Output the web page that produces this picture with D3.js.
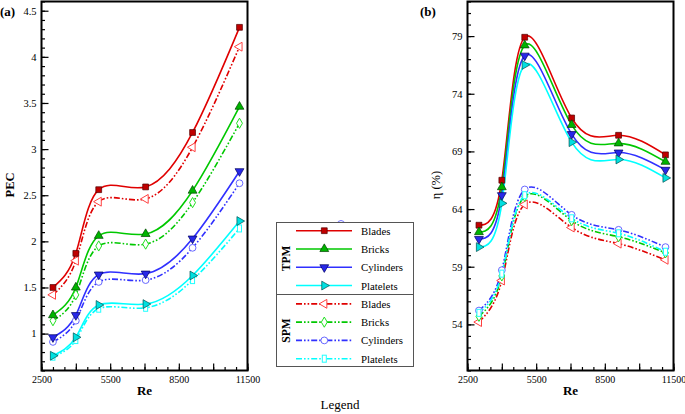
<!DOCTYPE html>
<html><head><meta charset="utf-8">
<script src="https://cdn.jsdelivr.net/npm/d3@7"></script>
<style>
html,body{margin:0;padding:0;background:#fff;}
svg{display:block;}
svg text{font-family:"Liberation Serif","Times New Roman",serif;}
</style></head>
<body><svg id="chart" width="685" height="414"></svg>
<script>
// ---- data ----
const reValues = [3000, 4000, 5000, 7050, 9100, 11150];
const seriesNames = ["Blades", "Bricks", "Cylinders", "Platelets"];
const groups = ["TPM", "SPM"];

const tpmBladesPEC = [1.50, 1.87, 2.56, 2.59, 3.18, 4.32];
const tpmBricksPEC = [1.20, 1.50, 2.06, 2.08, 2.55, 3.46];
const tpmCylindersPEC = [0.96, 1.20, 1.64, 1.65, 2.03, 2.76];
const tpmPlateletsPEC = [0.76, 0.96, 1.31, 1.32, 1.63, 2.22];
const spmBladesPEC = [1.42, 1.79, 2.43, 2.46, 3.02, 4.11];
const spmBricksPEC = [1.14, 1.42, 1.95, 1.97, 2.42, 3.28];
const spmCylindersPEC = [0.91, 1.14, 1.56, 1.58, 1.93, 2.63];
const spmPlateletsPEC = [0.75, 0.93, 1.27, 1.28, 1.58, 2.14];

const tpmBladesEta = [62.6, 66.5, 78.9, 71.9, 70.4, 68.7];
const tpmBricksEta = [62.0, 65.9, 78.2, 71.3, 69.7, 68.1];
const tpmCylindersEta = [61.4, 65.2, 77.3, 70.5, 68.9, 67.4];
const tpmPlateletsEta = [60.7, 64.5, 76.5, 69.8, 68.3, 66.7];
const spmBladesEta = [54.2, 57.8, 64.4, 62.4, 61.0, 59.6];
const spmBricksEta = [54.7, 58.2, 65.1, 63.0, 61.6, 60.2];
const spmCylindersEta = [55.2, 58.7, 65.7, 63.5, 62.2, 60.7];
const spmPlateletsEta = [55.0, 58.4, 65.2, 63.2, 61.9, 60.3];

const xTickLabels = [2500, 5500, 8500, 11500];
const pecTickLabels = [1, 1.5, 2, 2.5, 3, 3.5, 4, 4.5];
const etaTickLabels = [54, 59, 64, 69, 74, 79];

// ---- styles ----
const FONT = "'Liberation Serif','Times New Roman',serif";
const lineColors = ["#e00000", "#00c800", "#3030ff", "#00ffff"];
const markerFill = ["#c00000", "#00b400", "#2828e8", "#00e0e0"];
const markerStroke = ["#500000", "#004400", "#000060", "#005050"];
const openStroke = ["#ff4040", "#20e020", "#6868ff", "#20ffff"];
const dashSPM = "6,2,1.6,2,1.6,2";

const svg = d3.select("#chart");

const tpmPEC = [tpmBladesPEC, tpmBricksPEC, tpmCylindersPEC, tpmPlateletsPEC];
const spmPEC = [spmBladesPEC, spmBricksPEC, spmCylindersPEC, spmPlateletsPEC];
const tpmEta = [tpmBladesEta, tpmBricksEta, tpmCylindersEta, tpmPlateletsEta];
const spmEta = [spmBladesEta, spmBricksEta, spmCylindersEta, spmPlateletsEta];

function drawMarker(g, kind, i, x, y) {
  if (kind === "TPM") {
    const sym = [d3.symbolSquare, d3.symbolTriangle, d3.symbolTriangle, d3.symbolTriangle][i];
    const rot = [0, 0, 180, 90][i];
    g.append("path").attr("d", d3.symbol(sym, 34)())
      .attr("transform", `translate(${x},${y}) rotate(${rot})`)
      .attr("fill", markerFill[i]).attr("stroke", markerStroke[i]).attr("stroke-width", 0.7);
  } else {
    const c = openStroke[i];
    if (i === 0) {
      g.append("path").attr("d", d3.symbol(d3.symbolTriangle, 34)())
        .attr("transform", `translate(${x},${y}) rotate(-90)`)
        .attr("fill", "#fff").attr("stroke", c).attr("stroke-width", 1);
    } else if (i === 1) {
      g.append("path").attr("d", d3.symbol(d3.symbolDiamond, 30)())
        .attr("transform", `translate(${x},${y})`)
        .attr("fill", "#fff").attr("stroke", c).attr("stroke-width", 1);
    } else if (i === 2) {
      g.append("circle").attr("cx", x).attr("cy", y).attr("r", 3.4)
        .attr("fill", "#fff").attr("stroke", c).attr("stroke-width", 1);
    } else {
      g.append("rect").attr("x", x - 2).attr("y", y - 3.5).attr("width", 4).attr("height", 7)
        .attr("fill", "#fff").attr("stroke", c).attr("stroke-width", 1);
    }
  }
}

function panel(opts) {
  const {x0, x1, y0, y1, yDomain, yLabels, yMinorStep, tpm, spm, yTitle, panelLabel, plx} = opts;
  const x = d3.scaleLinear().domain([2500, 11500]).range([x0, x1]);
  const y = d3.scaleLinear().domain(yDomain).range([y1, y0]);
  const g = svg.append("g");

  const xMinor = d3.range(2500, 11501, 500);
  g.append("g").attr("transform", `translate(0,${y1})`)
    .call(d3.axisBottom(x).tickValues(xMinor).tickSize(-3.5).tickFormat(""))
    .call(a => a.select(".domain").remove());
  const xMajor = d3.range(2500, 11501, 1500);
  g.append("g").attr("transform", `translate(0,${y1})`)
    .call(d3.axisBottom(x).tickValues(xMajor).tickSize(-7).tickPadding(5)
      .tickFormat(v => xTickLabels.includes(v) ? String(v) : ""))
    .call(a => a.select(".domain").remove())
    .call(a => a.selectAll("text").attr("font-size", 10).attr("fill", "#000")
      .attr("font-family", FONT));

  const eps = 1e-9;
  const yMinor = d3.range(yDomain[0], yDomain[1] + eps, yMinorStep);
  g.append("g").attr("transform", `translate(${x0},0)`)
    .call(d3.axisLeft(y).tickValues(yMinor).tickSize(-3.5).tickFormat(""))
    .call(a => a.select(".domain").remove());
  g.append("g").attr("transform", `translate(${x0},0)`)
    .call(d3.axisLeft(y).tickValues(yLabels).tickSize(-7).tickPadding(5).tickFormat(d3.format("")))
    .call(a => a.select(".domain").remove())
    .call(a => a.selectAll("text").attr("font-size", 10.5).attr("fill", "#000")
      .attr("font-family", FONT));

  g.selectAll(".tick line").attr("stroke", "#000").attr("stroke-width", 1.2);

  const line = d3.line().x((d, k) => x(reValues[k])).y(d => y(d)).curve(d3.curveNatural);

  spm.forEach((vals, i) => {
    g.append("path").attr("d", line(vals)).attr("fill", "none")
      .attr("stroke", lineColors[i]).attr("stroke-width", 1.6).attr("stroke-dasharray", dashSPM);
  });
  tpm.forEach((vals, i) => {
    g.append("path").attr("d", line(vals)).attr("fill", "none")
      .attr("stroke", lineColors[i]).attr("stroke-width", 1.6);
  });
  spm.forEach((vals, i) => {
    vals.forEach((v, k) => drawMarker(g, "SPM", i, x(reValues[k]), y(v)));
  });
  tpm.forEach((vals, i) => {
    vals.forEach((v, k) => drawMarker(g, "TPM", i, x(reValues[k]), y(v)));
  });

  g.append("rect").attr("x", x0).attr("y", y0).attr("width", x1 - x0).attr("height", y1 - y0)
    .attr("fill", "none").attr("stroke", "#000").attr("stroke-width", 2);

  g.append("text").attr("x", (x0 + x1) / 2).attr("y", 395).attr("text-anchor", "middle")
    .attr("font-family", FONT).attr("font-weight", "bold").attr("font-size", 13).text("Re");
  g.append("text").attr("transform", `translate(${opts.ytx},185) rotate(-90)`)
    .attr("text-anchor", "middle").attr("font-family", FONT)
    .attr("font-weight", opts.yBold ? "bold" : "normal")
    .attr("font-size", 12.5).text(yTitle);
  g.append("text").attr("x", plx).attr("y", 16).attr("font-family", FONT).attr("font-weight", "bold")
    .attr("font-size", 13).text(panelLabel);
}

panel({x0: 41.5, x1: 247.5, y0: 1.5, y1: 370.5, yDomain: [0.6, 4.6], yLabels: pecTickLabels,
  yMinorStep: 0.1, tpm: tpmPEC, spm: spmPEC, yTitle: "PEC", yBold: true, ytx: 14, panelLabel: "(a)", plx: 0});
panel({x0: 467.5, x1: 673.5, y0: 1.5, y1: 370.5, yDomain: [50, 82], yLabels: etaTickLabels,
  yMinorStep: 1, tpm: tpmEta, spm: spmEta, yTitle: "η (%)", yBold: false, ytx: 440, panelLabel: "(b)", plx: 420});

// ---- legend ----
const lg = svg.append("g");
lg.append("circle").attr("cx", 341).attr("cy", 224).attr("r", 3.5).attr("fill", "#fff")
  .attr("stroke", "#7070ff").attr("stroke-width", 1);
lg.append("rect").attr("x", 276.5).attr("y", 222.5).attr("width", 137).attr("height", 144)
  .attr("fill", "#fff").attr("stroke", "#555").attr("stroke-width", 1);
lg.append("line").attr("x1", 276.5).attr("x2", 413.5).attr("y1", 294.5).attr("y2", 294.5)
  .attr("stroke", "#555").attr("stroke-width", 1);
const rowY = d3.scaleLinear().domain([0, 7]).range([230.7, 358.7]);
groups.forEach((grp, gi) => {
  seriesNames.forEach((name, i) => {
    const yy = rowY(gi * 4 + i);
    lg.append("line").attr("x1", 296).attr("x2", 352).attr("y1", yy).attr("y2", yy)
      .attr("stroke", lineColors[i]).attr("stroke-width", 1.6)
      .attr("stroke-dasharray", grp === "SPM" ? dashSPM : null);
    drawMarker(lg, grp, i, 324.3, yy);
    lg.append("text").attr("x", 361).attr("y", yy + 4).attr("font-family", FONT)
      .attr("font-size", 10.8).text(name);
  });
  const cy = gi === 0 ? 258.5 : 330.5;
  lg.append("text").attr("transform", `translate(289.5,${cy}) rotate(-90)`)
    .attr("text-anchor", "middle").attr("font-family", FONT).attr("font-weight", "bold")
    .attr("font-size", 11.5).text(grp);
});
svg.append("text").attr("x", 340).attr("y", 409).attr("text-anchor", "middle")
  .attr("font-family", FONT).attr("font-size", 13).text("Legend");
</script></body></html>
